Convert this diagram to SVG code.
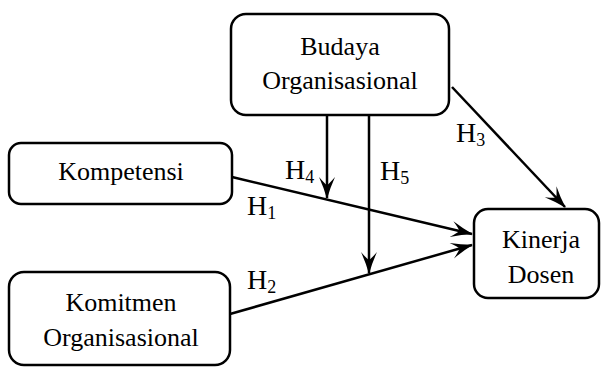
<svg xmlns="http://www.w3.org/2000/svg" width="601" height="367" viewBox="0 0 601 367">
<style>
.box{fill:#fff;stroke:#000;stroke-width:2.5}
.t{font-family:"Liberation Serif","Times New Roman",serif;font-size:26px;fill:#000;text-anchor:middle}
.h{font-family:"Liberation Serif","Times New Roman",serif;font-size:28px;fill:#000}
.sub{font-size:18px}
.c{stroke:#000;stroke-width:2.5;fill:none;marker-end:url(#arr)}
</style>
<defs>
<marker id="arr" markerUnits="userSpaceOnUse" viewBox="-22 -10 24 20" refX="0" refY="0" markerWidth="24" markerHeight="20" orient="auto">
<path d="M1,0 Q-10,-3 -21,-8 Q-14,-2 -13,0 Q-14,2 -21,8 Q-10,3 1,0 Z" fill="#000"/>
</marker>
</defs>
<g id="connectors">
<line class="c" x1="232" y1="177" x2="472" y2="234"/>
<line class="c" x1="230" y1="314" x2="472" y2="245"/>
<line class="c" x1="327" y1="115" x2="327" y2="198"/>
<line class="c" x1="369" y1="115" x2="369" y2="273"/>
<line class="c" x1="452" y1="87" x2="565" y2="207"/>
<text class="h" x="247" y="215">H<tspan class="sub" dy="4">1</tspan></text>
<text class="h" x="247" y="289">H<tspan class="sub" dy="4">2</tspan></text>
<text class="h" x="456" y="142">H<tspan class="sub" dy="4">3</tspan></text>
<text class="h" x="285" y="179">H<tspan class="sub" dy="4">4</tspan></text>
<text class="h" x="380" y="180">H<tspan class="sub" dy="4">5</tspan></text>
</g>
<g id="budaya">
<rect class="box" x="231" y="14" width="218" height="101" rx="15"/>
<text class="t" x="340" y="55">Budaya</text>
<text class="t" x="340" y="89">Organisasional</text>
</g>
<g id="kompetensi">
<rect class="box" x="9" y="143" width="223" height="61" rx="12"/>
<text class="t" x="121" y="180">Kompetensi</text>
</g>
<g id="komitmen">
<rect class="box" x="9" y="272" width="221" height="93" rx="15"/>
<text class="t" x="121" y="311">Komitmen</text>
<text class="t" x="121" y="346">Organisasional</text>
</g>
<g id="kinerja">
<rect class="box" x="474" y="209" width="125" height="89" rx="14"/>
<text class="t" x="541" y="248">Kinerja</text>
<text class="t" x="541" y="283">Dosen</text>
</g>
</svg>
